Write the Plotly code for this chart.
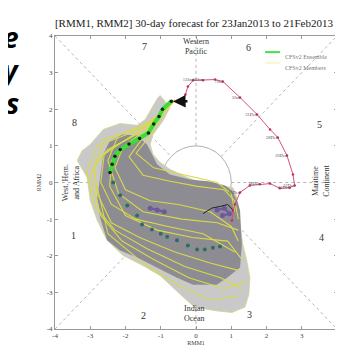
import plotly.graph_objects as go

# ---------------- data ----------------
# observed RMM trajectory (red), oldest -> newest
obs_x = [1.02, 1.05, 1.10, 1.25, 1.53, 1.81, 2.10, 2.38, 2.66, 2.80, 2.75, 2.58, 2.32, 2.10,
         1.73, 1.25, 0.76, 0.54, 0.20, -0.08, -0.23, -0.30, -0.35]
obs_y = [-1.04, -0.77, -0.60, -0.27, -0.08, -0.05, -0.03, -0.16, -0.14, -0.08, 0.22, 0.74, 1.23,
         1.45, 1.86, 2.32, 2.76, 2.81, 2.79, 2.79, 2.62, 2.40, 2.25]
obs_lbl_idx = [3, 5, 8, 9, 11, 12, 14, 15, 16, 18, 19]
obs_lbl_txt = ["16Dec", "18Dec", "21Dec", "22Dec", "26Dec", "28Dec", "31Dec", "3Jan", "7Jan", "10Jan", "12Jan"]

# CFSv2 ensemble mean: first part (green), later part (dark dots)
ens_x = [-0.70, -0.95, -1.05, -1.20, -1.35, -1.60, -1.90, -2.15, -2.30, -2.38, -2.44]
ens_y = [2.22, 2.00, 1.80, 1.60, 1.35, 1.20, 1.05, 0.90, 0.72, 0.50, 0.27]
ens2_x = [-2.35, -2.15, -1.95, -1.67, -1.53, -1.25, -1.00, -0.82, -0.54, -0.23, 0.03, 0.25, 0.48, 0.68]
ens2_y = [0.00, -0.35, -0.63, -0.90, -1.15, -1.28, -1.40, -1.48, -1.58, -1.72, -1.83, -1.83, -1.78, -1.75]

# CFSv2 members (yellow)
mem_x = [
    [-0.6, -0.9, -1.3, -1.6, -1.9, -1.5, -0.8, 0.0, 0.8, 1.1, 1.2],
    [-0.6, -1.0, -1.5, -2.1, -2.3, -2.0, -1.3, -0.5, 0.4, 1.0, 1.2],
    [-0.6, -1.1, -1.7, -2.3, -2.6, -2.7, -2.4, -1.7, -0.8, 0.2, 1.1],
    [-0.6, -1.2, -1.9, -2.5, -2.9, -2.8, -2.4, -1.6, -0.6, 0.4, 1.2],
    [-0.6, -1.3, -2.1, -2.7, -3.0, -2.7, -2.1, -1.2, -0.2, 0.8, 1.4],
    [-0.6, -1.4, -2.2, -2.6, -2.9, -2.5, -1.5, -0.5, 0.4, 1.2],
    [-0.6, -0.9, -1.2, -1.7, -1.2, -0.3, 0.6, 1.0, 1.1],
    [-0.6, -1.1, -1.6, -2.2, -2.5, -2.2, -1.5, -0.4, 0.6, 1.2],
    [-0.6, -1.0, -1.4, -1.9, -2.4, -2.45, -2.0, -1.1, -0.1, 0.9, 1.3],
    [-0.6, -1.2, -2.0, -2.8, -3.1, -2.9, -2.3, -1.4, -0.3, 0.7, 1.3],
]
mem_y = [
    [2.25, 2.0, 1.5, 1.1, 0.7, 0.2, 0.05, -0.1, -0.2, -0.5, -1.0],
    [2.25, 1.9, 1.3, 0.9, 0.4, -0.2, -0.5, -0.6, -0.8, -1.2, -1.6],
    [2.25, 1.8, 1.3, 1.0, 0.8, 0.0, -0.6, -1.0, -1.2, -1.4, -1.9],
    [2.25, 1.7, 1.2, 0.9, 0.5, -0.3, -1.1, -1.5, -1.9, -2.2, -2.4],
    [2.25, 1.6, 1.1, 0.7, 0.2, -0.9, -1.6, -2.1, -2.6, -2.9, -2.7],
    [2.25, 1.6, 1.3, 1.2, 0.3, -1.4, -2.2, -2.8, -3.2, -3.1],
    [2.25, 1.9, 1.4, 0.8, 0.4, 0.2, 0.0, -0.3, -0.8],
    [2.25, 1.8, 1.5, 1.3, 0.6, -0.3, -0.8, -1.0, -1.1, -1.3],
    [2.25, 1.85, 1.45, 1.1, 0.6, -0.1, -0.9, -1.3, -1.5, -1.6, -2.1],
    [2.25, 1.7, 1.3, 1.0, 0.3, -0.6, -1.3, -1.8, -2.3, -2.6, -2.9],
]

# spread envelopes (outer = light grey, inner = dark grey)
outer_x = [-1.02, -0.74, -0.93, -1.22, -1.30, -1.22, -1.02, -0.74, -0.37, 0.11, 0.68, 1.05, 1.16,
           1.19, 1.25, 1.33, 1.44, 1.53, 1.50, 1.39, 1.02, 0.54, -0.05, -0.45, -1.02, -1.50,
           -2.07, -2.52, -2.80, -3.00, -3.09, -3.37, -3.23, -3.00, -2.63, -2.15, -1.67, -1.44,
           -1.25, -1.08]
outer_y = [2.38, 2.05, 1.69, 1.31, 1.04, 0.77, 0.55, 0.36, 0.19, 0.00, -0.08, -0.14, -0.41,
           -0.68, -1.23, -1.69, -2.13, -2.60, -3.05, -3.40, -3.55, -3.50, -3.40, -3.05, -2.54,
           -2.27, -1.99, -1.58, -1.04, -0.49, 0.14, 0.60, 0.87, 1.04, 1.45, 1.61, 1.56, 1.72,
           2.05, 2.32]
inner_x = [-2.07, -1.67, -1.39, -1.10, -0.74, -0.17, 0.40, 0.82, 1.02, 1.19, 1.25, 1.30, 1.25,
           0.88, 0.59, -0.08, -0.54, -1.10, -1.67, -2.15, -2.52, -2.72, -2.80, -2.72, -2.63, -2.44]
inner_y = [1.31, 1.28, 1.04, 0.49, 0.22, 0.08, 0.03, -0.08, -0.22, -0.55, -0.77, -1.69, -2.32,
           -2.60, -2.79, -2.79, -2.60, -2.32, -2.05, -1.86, -1.58, -0.96, -0.41, 0.14, 0.77, 1.15]

# other marks inside the plume
purple_x = [-1.30, -1.10, -0.90, None, 0.60, 0.80, 0.95, 0.75]
purple_y = [-0.70, -0.75, -0.80, None, -0.75, -0.70, -0.85, -0.90]
black_x = [0.20, 0.45, 0.70, 0.90, 1.05]
black_y = [-0.85, -0.70, -0.65, -0.60, -0.75]
arrow_from = (-0.20, 2.22)
arrow_to = (-0.65, 2.21)

# phase numbers and region names
phase_txt = ["1", "2", "3", "4", "5", "6", "7", "8"]
phase_x = [-3.48, -1.50, 1.53, 3.55, 3.51, 1.50, -1.47, -3.46]
phase_y = [-1.45, -3.63, -3.60, -1.50, 1.58, 3.68, 3.72, 1.64]
region_txt = ["Western<br>Pacific", "Maritime<br>Continent", "Indian<br>Ocean", "West. Hem.<br>and Africa"]
region_x = [0.0, 3.55, -0.05, -3.55]
region_y = [3.70, 0.05, -3.58, 0.0]
region_ang = [0, -90, 0, -90]

ticks = [-4, -3, -2, -1, 0, 1, 2, 3, 4]
tick_txt = ["-4", "-3", "-2", "-1", "0", "1", "2", "3", "4"]

SERIF = "Liberation Serif"
fig = go.Figure()

fig.add_trace(go.Scatter(x=outer_x, y=outer_y, fill="toself", fillcolor="#c9c9c9",
                         line=dict(color="#d6d68a", width=0.8), mode="lines", hoverinfo="skip",
                         showlegend=False))
fig.add_trace(go.Scatter(x=inner_x, y=inner_y, fill="toself", fillcolor="#8c8c92",
                         line=dict(width=0), mode="lines", hoverinfo="skip", showlegend=False))
for mx, my in zip(mem_x, mem_y):
    fig.add_trace(go.Scatter(x=mx, y=my, mode="lines", line=dict(color="#d9d94a", width=1.1),
                             showlegend=False, hoverinfo="skip"))
fig.add_trace(go.Scatter(x=purple_x, y=purple_y, mode="lines+markers",
                         line=dict(color="#6a4fa3", width=2), marker=dict(size=5, color="#6a4fa3"),
                         opacity=0.85, showlegend=False))
fig.add_trace(go.Scatter(x=black_x, y=black_y, mode="lines", line=dict(color="#222", width=1),
                         showlegend=False))
fig.add_trace(go.Scatter(x=ens_x, y=ens_y, mode="lines+markers", name="CFSv2 Ensemble",
                         line=dict(color="#36e036", width=4), marker=dict(size=3.5, color="#1a1a1a"),
                         showlegend=False))
fig.add_trace(go.Scatter(x=ens2_x, y=ens2_y, mode="markers", marker=dict(size=4, color="#2b6f62"),
                         showlegend=False))
fig.add_trace(go.Scatter(x=obs_x, y=obs_y, mode="lines+markers",
                         line=dict(color="#d4507a", width=1), marker=dict(size=2.5, color="#c03060"),
                         showlegend=False))
fig.add_trace(go.Scatter(x=[obs_x[i] for i in obs_lbl_idx], y=[obs_y[i] for i in obs_lbl_idx],
                         mode="text", text=obs_lbl_txt, textposition="middle left",
                         textfont=dict(size=4.5, color="#555", family=SERIF), showlegend=False))

fig.add_annotation(x=arrow_to[0], y=arrow_to[1], ax=arrow_from[0], ay=arrow_from[1],
                   xref="x", yref="y", axref="x", ayref="y", text="", showarrow=True,
                   arrowhead=2, arrowsize=1, arrowwidth=2.5, arrowcolor="#111")

# reference lines
dash = dict(color="#b5b5b5", width=1, dash="dot")
r = 0.7071
for (x0, y0, x1, y1) in [(-4, -4, -r, -r), (r, r, 4, 4), (-4, 4, -r, r), (r, -r, 4, -4),
                         (0, 1, 0, 4), (0, -1, 0, -4), (1, 0, 4, 0), (-1, 0, -4, 0)]:
    fig.add_shape(type="line", x0=x0, y0=y0, x1=x1, y1=y1, line=dash, layer="below")
fig.add_shape(type="circle", x0=-1, y0=-1, x1=1, y1=1, line=dict(color="#b0b0b0", width=1),
              layer="below")

for t, x, y in zip(phase_txt, phase_x, phase_y):
    fig.add_annotation(x=x, y=y, text=t, showarrow=False,
                       font=dict(family=SERIF, size=10, color="#333"))
for t, x, y, a in zip(region_txt, region_x, region_y, region_ang):
    fig.add_annotation(x=x, y=y, text=t, showarrow=False, textangle=a,
                       font=dict(family=SERIF, size=8, color="#333"))

# legend (manual)
fig.add_shape(type="line", xref="paper", yref="paper", x0=0.745, x1=0.798, y0=0.945, y1=0.945,
              line=dict(color="#44e044", width=2))
fig.add_shape(type="line", xref="paper", yref="paper", x0=0.745, x1=0.798, y0=0.908, y1=0.908,
              line=dict(color="#f0f0a8", width=1))
fig.add_annotation(xref="paper", yref="paper", x=0.809, y=0.945, text="CFSv2 Ensemble",
                   showarrow=False, xanchor="left", font=dict(family=SERIF, size=6, color="#777"))
fig.add_annotation(xref="paper", yref="paper", x=0.809, y=0.908, text="CFSv2 Members",
                   showarrow=False, xanchor="left", font=dict(family=SERIF, size=6, color="#777"))

# cropped neighbouring text on the left edge
for t, yp in zip(["e", "y", "s"], [0.996, 0.883, 0.771]):
    fig.add_annotation(xref="paper", yref="paper", x=-0.121, y=yp, text="<b><i>" + t + "</i></b>",
                       showarrow=False, xanchor="right", yanchor="middle",
                       font=dict(family="Open Sans", size=28, color="#000"))

axis_common = dict(range=[-4, 4], tickvals=ticks, ticktext=tick_txt, showgrid=False,
                   zeroline=False, showline=True, mirror="ticks", ticks="inside", ticklen=3,
                   linecolor="#999", tickcolor="#999", linewidth=1, automargin=False,
                   tickfont=dict(family=SERIF, size=7, color="#444"))
fig.update_layout(
    width=343, height=345,
    margin=dict(l=47, r=14, t=28, b=24, autoexpand=False),
    paper_bgcolor="white", plot_bgcolor="white",
    title=dict(text="[RMM1, RMM2] 30-day forecast for 23Jan2013 to 21Feb2013",
               x=0.542, xanchor="center", y=0.957, yanchor="middle", automargin=False,
               font=dict(family=SERIF, size=11, color="#222")),
    xaxis=dict(**axis_common, title=dict(text="RMM1", standoff=1,
                                         font=dict(family=SERIF, size=6, color="#444"))),
    yaxis=dict(**axis_common, title=dict(text="RMM2", standoff=4,
                                         font=dict(family=SERIF, size=6, color="#444"))),
    showlegend=False,
)
fig.write_html("out.html")
